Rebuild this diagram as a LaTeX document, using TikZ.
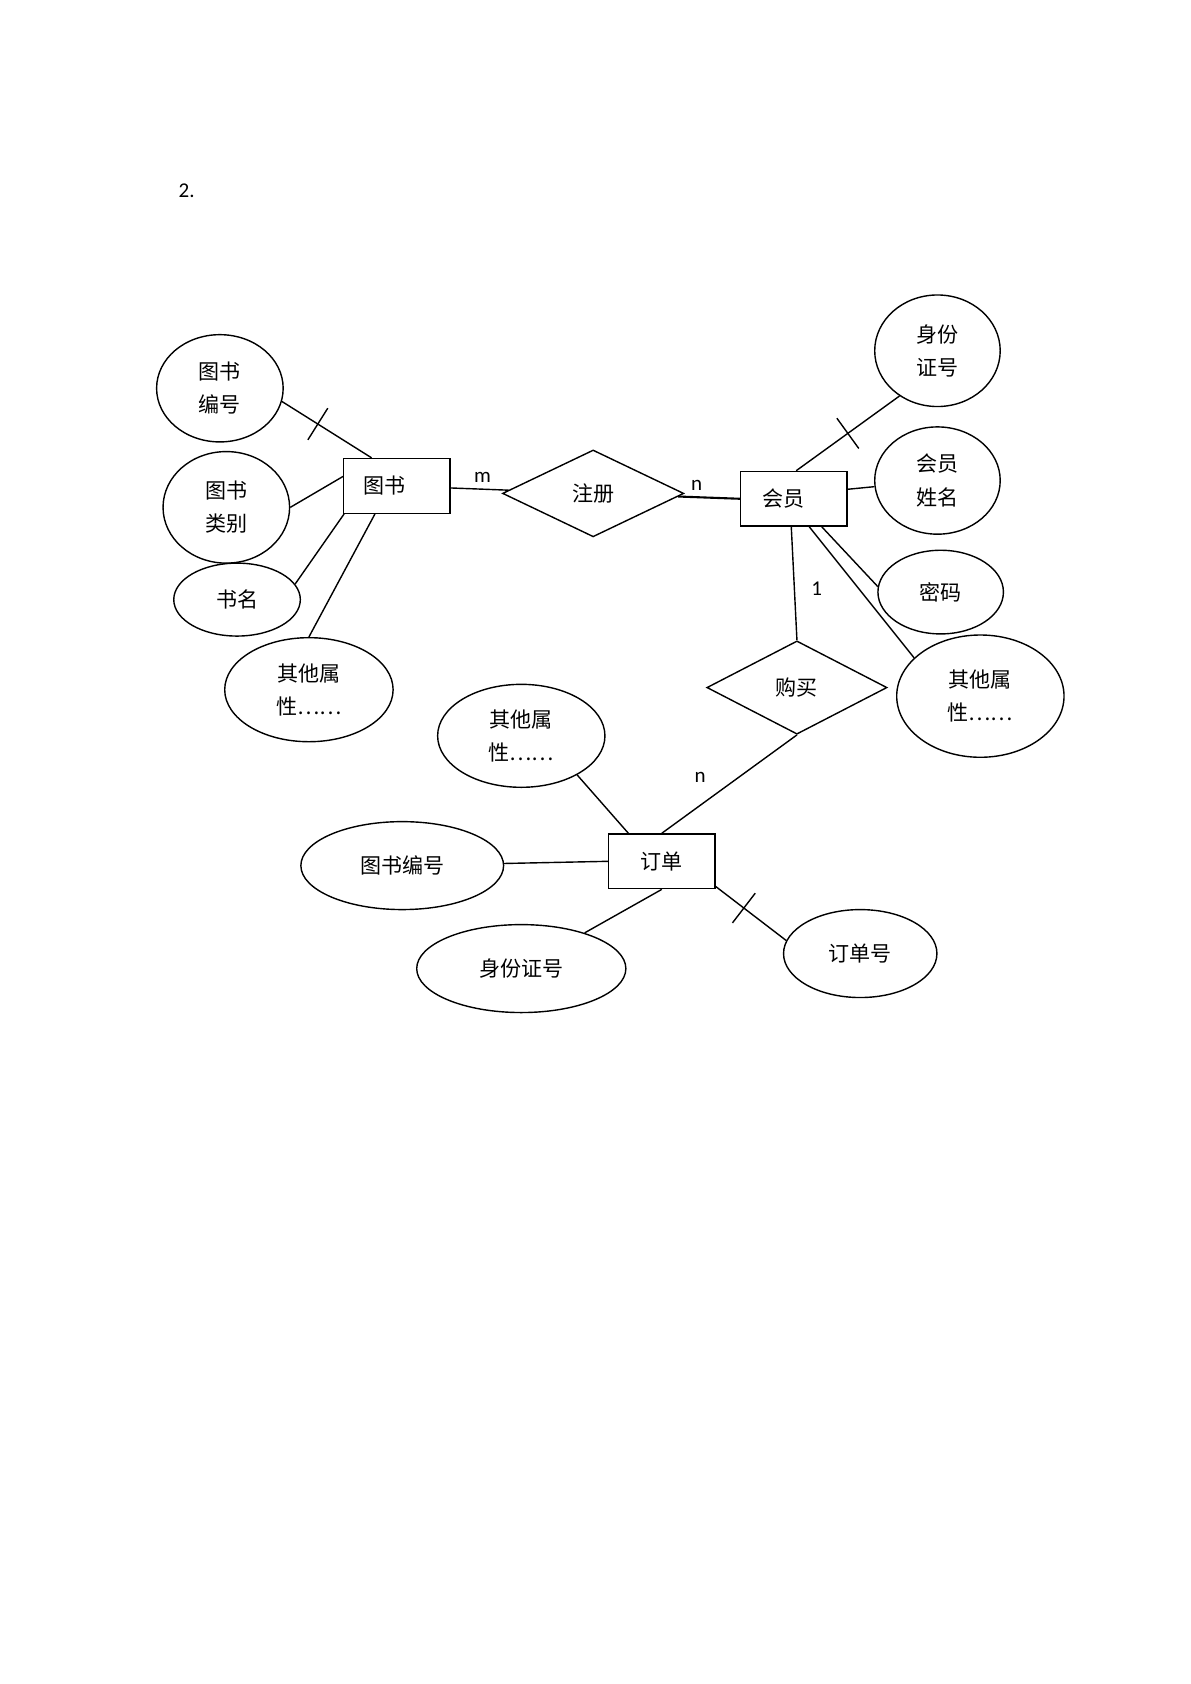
\documentclass[tikz,border=0pt]{standalone}
\usepackage{fontspec}
\setmainfont{Carlito}
\newfontfamily\cjk{Noto Sans CJK SC}
\usetikzlibrary{shapes.geometric}

\begin{document}
\begin{tikzpicture}[x=0.0215cm,y=-0.0215cm,
		attr/.style={ellipse,draw,thick,inner sep=0,font=\cjk\fontsize{12}{19}\selectfont,align=center},
		entity/.style={rectangle,draw,thick,minimum width=99*0.0215cm,minimum height=51*0.0215cm,font=\cjk\fontsize{12}{15}\selectfont},
		rel/.style={diamond,draw,thick,inner sep=0,aspect=2,font=\cjk\fontsize{12}{15}\selectfont},
		card/.style={font=\fontsize{12}{14}\selectfont},
		tick/.style={sloped,draw,inner sep=0,minimum width=0pt,minimum height=0.75cm}
		]
	\useasboundingbox (0,0) rectangle (1110,1570);
	\node[card] (num) at (174,178) {2.};

	% entities
	\node[entity] (book) at (370,453) {\hspace*{-1.2em}图书};
	\node[entity] (member) at (740,465) {\hspace*{-1em}会员};
	\node[entity] (order) at (617,803) {订单};

	% relationships
	\node[rel,minimum width=169*0.0215cm,minimum height=81*0.0215cm] (reg) at (553,460) {注册};
	\node[rel,minimum width=168*0.0215cm,minimum height=87*0.0215cm] (buy) at (743,641) {购买};

	% book attributes
	\node[attr,minimum width=118*0.0215cm,minimum height=100*0.0215cm] (bid) at (205,362) {图书\\编号};
	\node[attr,minimum width=118*0.0215cm,minimum height=104*0.0215cm] (btype) at (211,473) {图书\\类别};
	\node[attr,minimum width=118*0.0215cm,minimum height=68*0.0215cm] (bname) at (221,559) {书名};
	\node[attr,minimum width=157*0.0215cm,minimum height=97*0.0215cm] (bother) at (288,643) {其他属\\性……};

	% member attributes
	\node[attr,minimum width=117*0.0215cm,minimum height=104*0.0215cm] (mid) at (874,327) {身份\\证号};
	\node[attr,minimum width=117*0.0215cm,minimum height=100*0.0215cm] (mname) at (874,448) {会员\\姓名};
	\node[attr,minimum width=117*0.0215cm,minimum height=78*0.0215cm] (mpw) at (877,552) {密码};
	\node[attr,minimum width=156*0.0215cm,minimum height=114*0.0215cm] (mother) at (914,649) {其他属\\性……};

	% order attributes
	\node[attr,minimum width=156*0.0215cm,minimum height=96*0.0215cm] (oother) at (486,686) {其他属\\性……};
	\node[attr,minimum width=189*0.0215cm,minimum height=82*0.0215cm] (obid) at (375,807) {图书编号};
	\node[attr,minimum width=195*0.0215cm,minimum height=82*0.0215cm] (omid) at (486,903) {身份证号};
	\node[attr,minimum width=143*0.0215cm,minimum height=82*0.0215cm] (oid) at (802,889) {订单号};

	% connectors
	\draw[thick] (bid.-12) -- (book.132) node[tick,pos=0.4]{};
	\draw[thick] (btype.0) -- (book.170);
	\draw[thick] (bname.15) -- (book.-152);
	\draw[thick] (bother.north) -- (book.-128);
	\draw[thick] (book) -- (reg) node[card,pos=0.55,above]{m};
	\draw[very thick] (reg) -- (member.west) node[card,pos=0.3,above]{n};
	\draw[thick] (member.85) -- (mid.-130) node[tick,pos=0.5]{};
	\draw[thick] (member.10) -- (mname);
	\draw[thick] (member.-45) -- (mpw.175);
	\draw[thick] (member.-61) -- (mother.150);
	\draw[thick] (member.-95) -- (buy.north) node[card,pos=0.55,right,xshift=6pt]{1};
	\draw[thick] (buy.south) -- (order.north) node[card,pos=0.55,above left,xshift=-6pt]{n};
	\draw[thick] (oother.-35) -- (order.140);
	\draw[thick] (obid) -- (order.west);
	\draw[thick] (order.south) -- (omid);
	\draw[thick] (order.-25) -- (oid.170) node[tick,pos=0.4]{};
\end{tikzpicture}
\end{document}
